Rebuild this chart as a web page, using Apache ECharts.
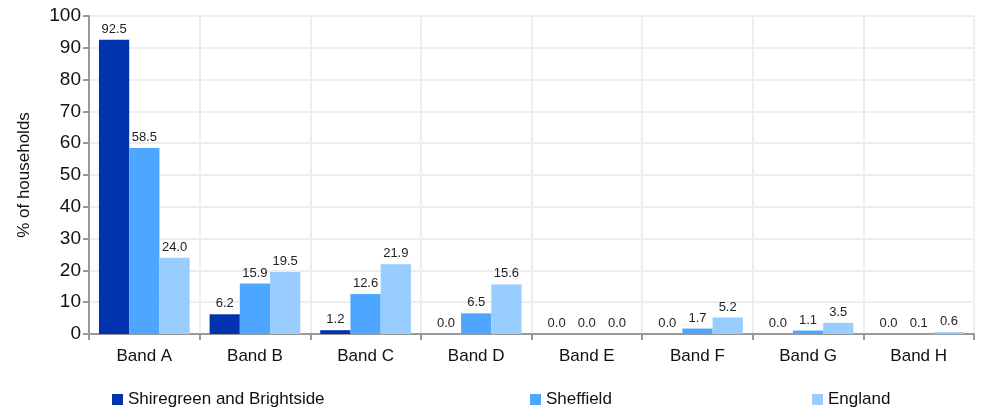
<!DOCTYPE html>
<html>
<head>
<meta charset="utf-8">
<script src="https://cdn.jsdelivr.net/npm/echarts@6/dist/echarts.min.js"></script>
<style>
  html, body { margin: 0; padding: 0; background: #fff; }
  #chart { width: 981px; height: 409px; }
</style>
</head>
<body>
<div id="chart"></div>
<script>
let categories = ['Band A', 'Band B', 'Band C', 'Band D', 'Band E', 'Band F', 'Band G', 'Band H'];
let seriesNames = ['Shiregreen and Brightside', 'Sheffield', 'England'];
let shiregreen = [92.5, 6.2, 1.2, 0.0, 0.0, 0.0, 0.0, 0.0];
let sheffield = [58.5, 15.9, 12.6, 6.5, 0.0, 1.7, 1.1, 0.1];
let england = [24.0, 19.5, 21.9, 15.6, 0.0, 5.2, 3.5, 0.6];

let colorList = ['#0033AD', '#4DA6FF', '#99CCFF'];
let font = 'Liberation Sans, Arial, sans-serif';

function makeSeries(name, data, color) {
  return {
    name: name,
    type: 'bar',
    data: data,
    barGap: '0%',
    barCategoryGap: '18%',
    itemStyle: { color: color },
    label: {
      show: true,
      position: 'top',
      distance: 4,
      color: '#222',
      fontSize: 13,
      fontFamily: font,
      formatter: function (p) { return p.value.toFixed(1); }
    }
  };
}

function legendAt(name, left) {
  return {
    data: [name],
    left: left,
    top: 391,
    padding: 0,
    icon: 'rect',
    itemWidth: 11,
    itemHeight: 11,
    itemGap: 8,
    textStyle: { fontSize: 17, color: '#111', fontFamily: font }
  };
}

let option = {
  animation: false,
  color: colorList,
  grid: { left: 89, right: 7, top: 16, bottom: 75 },
  legend: [
    legendAt(seriesNames[0], 112),
    legendAt(seriesNames[1], 530),
    legendAt(seriesNames[2], 812)
  ],
  xAxis: {
    type: 'category',
    data: categories,
    axisLine: { lineStyle: { color: '#999', width: 2 } },
    axisTick: { show: true, length: 6, lineStyle: { color: '#999', width: 2 } },
    splitLine: { show: true, lineStyle: { color: '#eee', width: 2 } },
    axisLabel: { fontSize: 17, color: '#111', fontFamily: font, margin: 14 }
  },
  yAxis: {
    type: 'value',
    min: 0,
    max: 100,
    interval: 10,
    name: '% of households',
    nameLocation: 'middle',
    nameGap: 56,
    nameTextStyle: { fontSize: 17, color: '#111', fontFamily: font },
    axisLine: { show: true, lineStyle: { color: '#999', width: 2 } },
    axisTick: { show: true, length: 6, lineStyle: { color: '#999', width: 2 } },
    splitLine: { show: true, lineStyle: { color: '#eee', width: 2 } },
    axisLabel: { fontSize: 19, color: '#111', fontFamily: font, margin: 8 }
  },
  series: [
    makeSeries(seriesNames[0], shiregreen, colorList[0]),
    makeSeries(seriesNames[1], sheffield, colorList[1]),
    makeSeries(seriesNames[2], england, colorList[2])
  ]
};

var chart = echarts.init(document.getElementById('chart'));
chart.setOption(option);
</script>
</body>
</html>
